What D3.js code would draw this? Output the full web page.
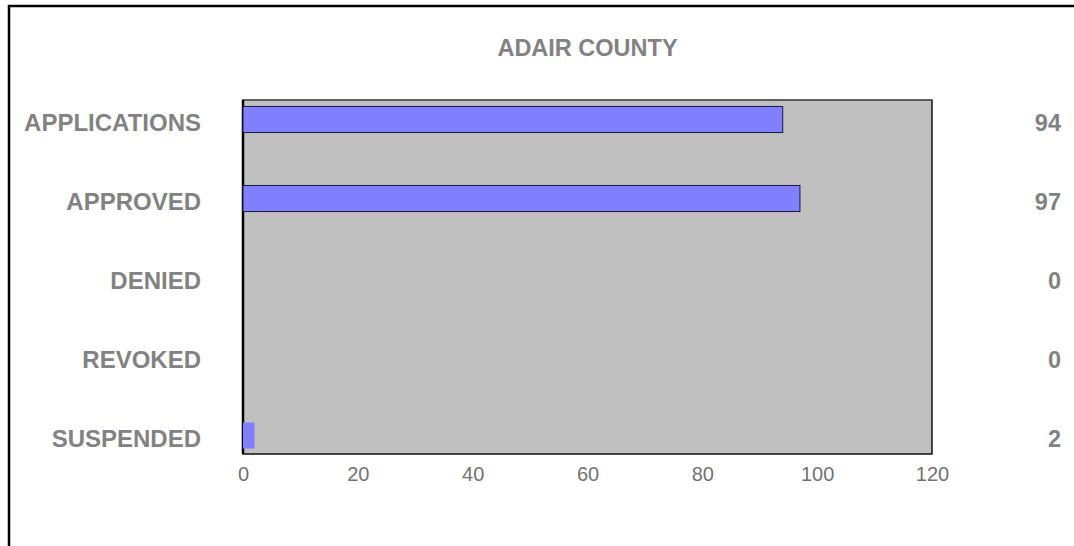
<!DOCTYPE html>
<html>
<head>
<meta charset="utf-8">
<script src="https://cdn.jsdelivr.net/npm/d3@7"></script>
<style>
  html, body { margin: 0; padding: 0; background: #fff; overflow: hidden; }
  svg { display: block; font-family: Arial, "Liberation Sans", sans-serif; }
</style>
</head>
<body>
<svg id="chart" width="1074" height="546"></svg>
<script>
const title = "ADAIR COUNTY";
const categories = ["APPLICATIONS", "APPROVED", "DENIED", "REVOKED", "SUSPENDED"];
const values = [94, 97, 0, 0, 2];
const tickValues = [0, 20, 40, 60, 80, 100, 120];

const svg = d3.select("#chart");
const W = 1074, H = 546;
const plot = { left: 243, right: 932, top: 100, bottom: 454 };

// outer frame (extends beyond viewport to right and bottom)
svg.append("rect")
  .attr("x", 9).attr("y", 6).attr("width", W + 50).attr("height", H + 50)
  .attr("fill", "none").attr("stroke", "#000").attr("stroke-width", 2.5);

const x = d3.scaleLinear().domain([0, 120]).range([plot.left, plot.right]);
const y = d3.scaleBand().domain(categories).range([80, 475])
  .paddingInner(0.67).paddingOuter(0.335);

// plot background
svg.append("rect")
  .attr("x", plot.left).attr("y", plot.top)
  .attr("width", plot.right - plot.left).attr("height", plot.bottom - plot.top)
  .attr("fill", "#c0c0c0").attr("stroke", "#111").attr("stroke-width", 1.5);
svg.append("line")
  .attr("x1", plot.left).attr("x2", plot.right).attr("y1", plot.top).attr("y2", plot.top)
  .attr("stroke", "#666").attr("stroke-width", 1.5);
svg.append("line")
  .attr("x1", plot.left).attr("x2", plot.left).attr("y1", plot.top).attr("y2", plot.bottom)
  .attr("stroke", "#000").attr("stroke-width", 2.5);

// bars
svg.append("g").selectAll("rect")
  .data(categories.map((c, i) => ({ c, v: values[i] })).filter(d => d.v > 0))
  .join("rect")
  .attr("x", x(0))
  .attr("y", d => y(d.c))
  .attr("width", d => x(d.v) - x(0))
  .attr("height", y.bandwidth())
  .attr("fill", "#8080ff")
  .attr("stroke", d => d.v > 5 ? "#1a1a40" : "none")
  .attr("stroke-width", 1);

// title
svg.append("text")
  .attr("x", (plot.left + plot.right) / 2).attr("y", 48)
  .attr("text-anchor", "middle").attr("dominant-baseline", "central")
  .attr("font-size", 23.5).attr("font-weight", "bold").attr("fill", "#828282")
  .text(title);

// category labels
svg.append("g").selectAll("text")
  .data(categories)
  .join("text")
  .attr("x", 201)
  .attr("y", d => y(d) + y.bandwidth() / 2 + 2.5)
  .attr("text-anchor", "end").attr("dominant-baseline", "central")
  .attr("font-size", 24).attr("font-weight", "bold").attr("fill", "#828282")
  .text(d => d);

// value labels
svg.append("g").selectAll("text")
  .data(categories.map((c, i) => ({ c, v: values[i] })))
  .join("text")
  .attr("x", 1061)
  .attr("y", d => y(d.c) + y.bandwidth() / 2 + 3)
  .attr("text-anchor", "end").attr("dominant-baseline", "central")
  .attr("font-size", 23.5).attr("font-weight", "bold").attr("fill", "#828282")
  .text(d => d.v);

// x axis
const axis = d3.axisBottom(x).tickValues(tickValues).tickSize(0).tickPadding(13);
const gx = svg.append("g").attr("transform", `translate(0,${plot.bottom})`).call(axis);
gx.select(".domain").remove();
gx.selectAll("text")
  .attr("font-size", 20).attr("fill", "#727272")
  .attr("font-family", "Arial, 'Liberation Sans', sans-serif");
</script>
</body>
</html>
